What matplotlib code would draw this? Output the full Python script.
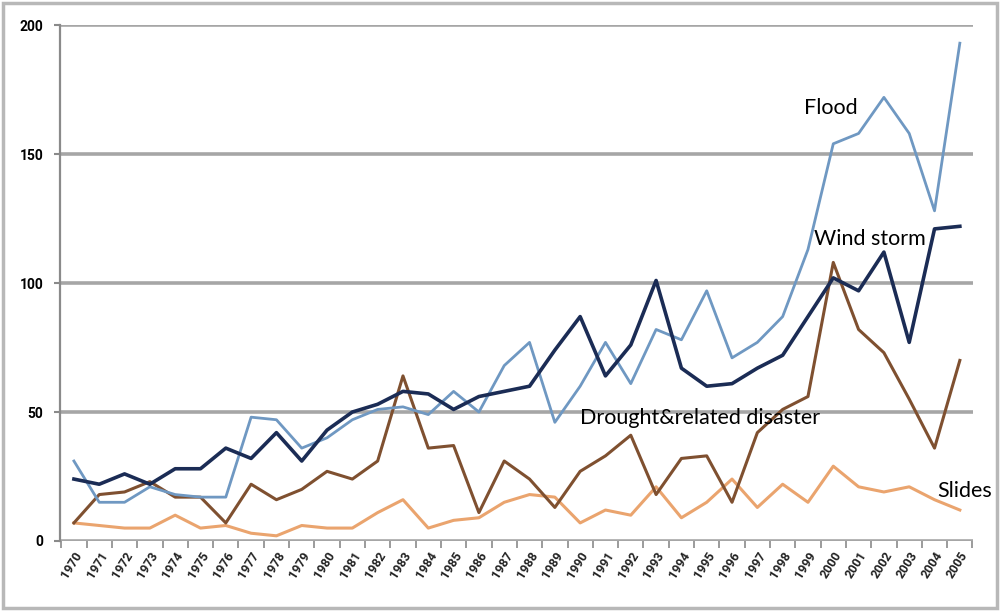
import matplotlib
matplotlib.use("Agg")
import matplotlib.pyplot as plt
from matplotlib.patches import Rectangle

years = list(range(1970, 2006))

flood = [31, 15, 15, 21, 18, 17, 17, 48, 47, 36, 40, 47, 51, 52, 49, 58, 50, 68,
         77, 46, 60, 77, 61, 82, 78, 97, 71, 77, 87, 113, 154, 158, 172, 158, 128, 193]
wind_storm = [24, 22, 26, 22, 28, 28, 36, 32, 42, 31, 43, 50, 53, 58, 57, 51, 56, 58,
              60, 74, 87, 64, 76, 101, 67, 60, 61, 67, 72, 87, 102, 97, 112, 77, 121, 122]
drought = [7, 18, 19, 23, 17, 17, 7, 22, 16, 20, 27, 24, 31, 64, 36, 37, 11, 31,
           24, 13, 27, 33, 41, 18, 32, 33, 15, 42, 51, 56, 108, 82, 73, 55, 36, 70]
slides = [7, 6, 5, 5, 10, 5, 6, 3, 2, 6, 5, 5, 11, 16, 5, 8, 9, 15,
          18, 17, 7, 12, 10, 21, 9, 15, 24, 13, 22, 15, 29, 21, 19, 21, 16, 12]

y_ticks = [0, 50, 100, 150, 200]

# label text and where it sits (data coords)
labels = {
    "Flood": (1998.85, 168),
    "Wind storm": (1999.25, 117),
    "Drought&related disaster": (1990.0, 47.5),
    "Slides": (2004.1, 19.5),
}

fig = plt.figure(figsize=(10, 6.13), dpi=100)
fig.patches.append(Rectangle((0.003, 0.008), 0.994, 0.987, transform=fig.transFigure,
                             fill=False, edgecolor="#b8b8b8", linewidth=2.5))

ax = fig.add_axes([0.060, 0.1175, 0.913, 0.8415])

grid_c = "#a6a6a6"
for v in y_ticks:
    ax.axhline(v, color=grid_c, linewidth=2.6, zorder=1)

ax.plot(years, slides, color="#eaa46e", linewidth=2.2, zorder=3)
ax.plot(years, drought, color="#7f5030", linewidth=2.2, zorder=4)
ax.plot(years, flood, color="#6f98c2", linewidth=2.0, zorder=5)
ax.plot(years, wind_storm, color="#1b2c55", linewidth=2.6, zorder=6)

for txt, (x, y) in labels.items():
    ax.text(x, y, txt, fontsize=15.5, family=["Lato", "DejaVu Sans"],
            ha="left", va="center", color="black", zorder=7)

ax.set_xlim(1969.45, 2005.52)
ax.set_ylim(0, 200)

for s in ["top", "right", "bottom"]:
    ax.spines[s].set_visible(False)
ax.spines["left"].set_color("#8a8a8a")
ax.spines["left"].set_linewidth(1.6)

ax.set_yticks(y_ticks)
ax.set_yticklabels([str(v) for v in y_ticks], fontsize=10, fontweight="bold",
                   family=["Roboto", "DejaVu Sans"])
ax.tick_params(axis="y", length=4, width=1.5, color="#8a8a8a", pad=8)

# tick marks between categories, labels on categories
ax.set_xticks([y - 0.5 for y in years] + [2005.5], minor=True)
ax.set_xticks(years)
ax.set_xticklabels([str(y) for y in years], rotation=58, ha="right", va="top",
                   rotation_mode="anchor", fontsize=9, fontweight="bold",
                   family=["Roboto", "DejaVu Sans"], color="#222222")
ax.tick_params(axis="x", which="major", length=0, pad=6)
ax.tick_params(axis="x", which="minor", length=5, width=1.2, color="#8a8a8a")

fig.savefig("out.png", dpi=100)
